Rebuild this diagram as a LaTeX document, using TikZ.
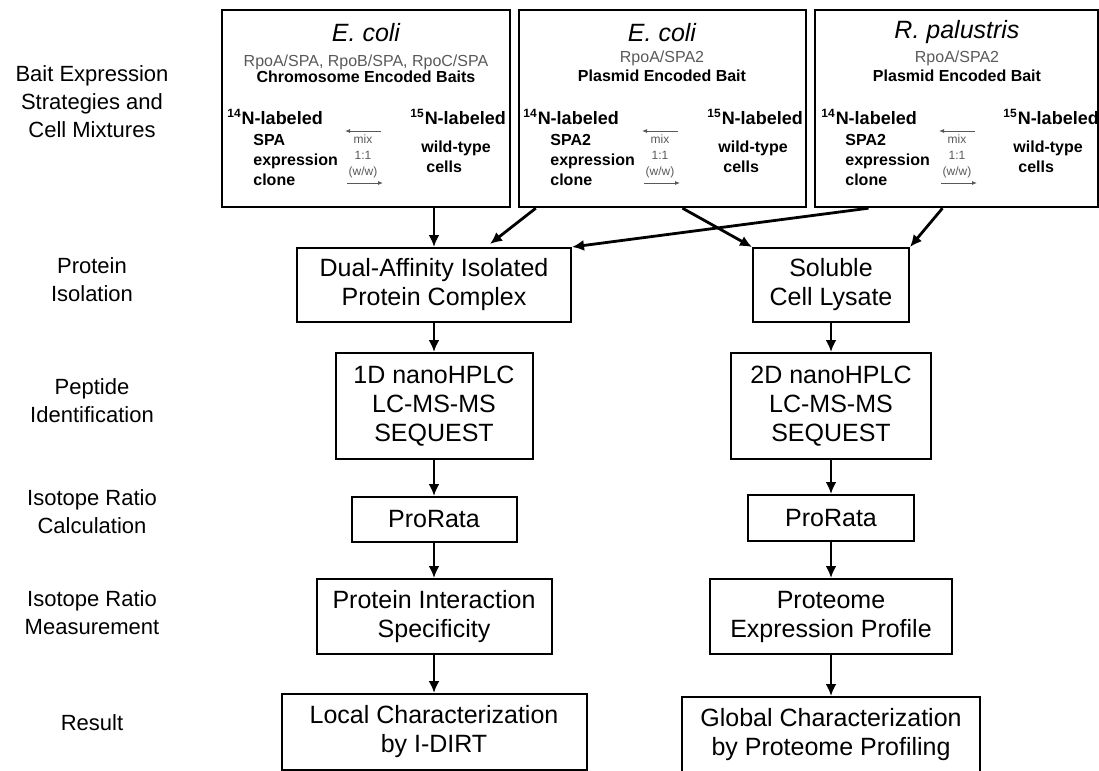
\documentclass[tikz,border=0pt]{standalone}
\usepackage{fontspec}
\setmainfont{Liberation Sans}
\usetikzlibrary{arrows.meta,calc,positioning}
\definecolor{baitgray}{gray}{0.35}
\tikzset{
  stage/.style={align=center,inner sep=0pt,font=\fontsize{11}{14}\selectfont},
  flowbox/.style={draw,line width=1pt,align=center,inner sep=0pt,font=\fontsize{12.5}{14.5}\selectfont},
  baitbox/.style={draw,line width=1.2pt,inner sep=0pt},
  flow/.style={-{Latex[length=6pt,width=5.5pt]},line width=1.4pt},
  mixarr/.style={-{Latex[length=2.5pt,width=2pt]},line width=0.4pt,baitgray},
  organism/.style={inner sep=0pt,font=\fontsize{12.5}{14}\selectfont\itshape},
  baitlist/.style={inner sep=0pt,font=\fontsize{8}{10}\selectfont,text=baitgray},
  baitkind/.style={inner sep=0pt,font=\fontsize{8}{10}\selectfont\bfseries},
  labeled/.style={anchor=west,inner sep=0pt,font=\fontsize{9}{11}\selectfont\bfseries},
  cellnote/.style={anchor=west,align=left,inner sep=0pt,font=\fontsize{8}{10}\selectfont\bfseries},
  mixnote/.style={align=center,inner sep=0pt,text=baitgray,font=\fontsize{6}{8}\selectfont}
}
\begin{document}
\begin{tikzpicture}[x=0.5pt,y=-0.5pt]
\useasboundingbox (0,0) rectangle (1099,771);
% stage labels
\node[stage] (lblBait) at (92,102) {Bait Expression\\Strategies and\\Cell Mixtures};
\node[stage] (lblIso) at (92,280) {Protein\\Isolation};
\node[stage] (lblPep) at (92,401) {Peptide\\Identification};
\node[stage] (lblCalc) at (92,512) {Isotope Ratio\\Calculation};
\node[stage] (lblMeas) at (92,613) {Isotope Ratio\\Measurement};
\node[stage] (lblRes) at (92,723) {Result};
% bait boxes
\node[baitbox,minimum width=144pt,minimum height=98.5pt] (boxA) at (366,108.5) {};
\node[baitbox,minimum width=143.5pt,minimum height=98.5pt] (boxB) at (662.5,108.5) {};
\node[baitbox,minimum width=141.5pt,minimum height=98.5pt] (boxC) at (956.5,108.5) {};
% E. coli, chromosome
\node[organism] (orgA) at (366,33) {E. coli};
\node[baitlist] (listA) at (366,62) {RpoA/SPA, RpoB/SPA, RpoC/SPA};
\node[baitkind] (kindA) at (366,77) {Chromosome Encoded Baits};
\node[labeled] (lightA) at (227,117) {\textsuperscript{14}N-labeled};
\node[cellnote] (cloneA) at (253,160) {SPA\\expression\\clone};
\node[mixnote] (mixA) at (363,156) {mix\\1:1\\(w/w)};
\node[labeled] (heavyA) at (410,117) {\textsuperscript{15}N-labeled};
\node[cellnote] (wildA) at (421,157) {wild-type\\\hspace{2.5pt}cells};
\draw[mixarr] ($(mixA)+(18,-25)$) -- ($(mixA)+(-18,-25)$);
\draw[mixarr] ($(mixA)+(-16,27)$) -- ($(mixA)+(20,27)$);
% E. coli, plasmid
\node[organism] (orgB) at (662,33) {E. coli};
\node[baitlist] (listB) at (662,58) {RpoA/SPA2};
\node[baitkind] (kindB) at (662,76) {Plasmid Encoded Bait};
\node[labeled] (lightB) at (523,117) {\textsuperscript{14}N-labeled};
\node[cellnote] (cloneB) at (550,160) {SPA2\\expression\\clone};
\node[mixnote] (mixB) at (660,156) {mix\\1:1\\(w/w)};
\node[labeled] (heavyB) at (707,117) {\textsuperscript{15}N-labeled};
\node[cellnote] (wildB) at (718,157) {wild-type\\\hspace{2.5pt}cells};
\draw[mixarr] ($(mixB)+(18,-25)$) -- ($(mixB)+(-18,-25)$);
\draw[mixarr] ($(mixB)+(-16,27)$) -- ($(mixB)+(20,27)$);
% R. palustris, plasmid
\node[organism] (orgC) at (957,32) {R. palustris};
\node[baitlist] (listC) at (957,58) {RpoA/SPA2};
\node[baitkind] (kindC) at (957,76) {Plasmid Encoded Bait};
\node[labeled] (lightC) at (821,117) {\textsuperscript{14}N-labeled};
\node[cellnote] (cloneC) at (845,160) {SPA2\\expression\\clone};
\node[mixnote] (mixC) at (957,156) {mix\\1:1\\(w/w)};
\node[labeled] (heavyC) at (1003,117) {\textsuperscript{15}N-labeled};
\node[cellnote] (wildC) at (1013,157) {wild-type\\\hspace{2.5pt}cells};
\draw[mixarr] ($(mixC)+(18,-25)$) -- ($(mixC)+(-18,-25)$);
\draw[mixarr] ($(mixC)+(-16,27)$) -- ($(mixC)+(20,27)$);
% complex branch
\node[flowbox,minimum width=137pt,minimum height=37pt] (dual) at (434,285) {Dual-Affinity Isolated\\Protein Complex};
\node[flowbox,minimum width=98.5pt,minimum height=53pt] (hplcA) at (434,406) {1D nanoHPLC\\LC-MS-MS\\SEQUEST};
\node[flowbox,minimum width=82.5pt,minimum height=22.5pt] (rataA) at (434,519.5) {ProRata};
\node[flowbox,minimum width=117.5pt,minimum height=37.5pt] (spec) at (434,616.5) {Protein Interaction\\Specificity};
\node[flowbox,minimum width=152.5pt,minimum height=38pt] (local) at (434,732) {Local Characterization\\by I-DIRT};
% lysate branch
\node[flowbox,minimum width=78pt,minimum height=37pt] (lysate) at (831,285) {Soluble\\Cell Lysate};
\node[flowbox,minimum width=100pt,minimum height=53pt] (hplcB) at (831,406) {2D nanoHPLC\\LC-MS-MS\\SEQUEST};
\node[flowbox,minimum width=83pt,minimum height=23pt] (rataB) at (831,518) {ProRata};
\node[flowbox,minimum width=121pt,minimum height=37.5pt] (prof) at (831,616.5) {Proteome\\Expression Profile};
\node[flowbox,minimum width=149pt,minimum height=38pt] (global) at (831,735) {Global Characterization\\by Proteome Profiling};
% arrows
\draw[flow] (dual.north |- boxA.south) -- (dual.north);
\draw[flow] ($(boxB.south west)+(18,0)$) -- ($(dual.north)+(56,-3)$);
\draw[flow] ($(boxB.south)+(20,0)$) -- (lysate.north west);
\draw[flow] ($(boxC.south)+(-88,0)$) -- (dual.north east);
\draw[flow] ($(boxC.south)+(-14,0)$) -- (lysate.north east);
\draw[flow] (dual) -- (hplcA);
\draw[flow] (hplcA) -- (rataA);
\draw[flow] (rataA) -- (spec);
\draw[flow] (spec) -- (local);
\draw[flow] (lysate) -- (hplcB);
\draw[flow] (hplcB) -- (rataB);
\draw[flow] (rataB) -- (prof);
\draw[flow] (prof) -- (global);
\end{tikzpicture}
\end{document}
